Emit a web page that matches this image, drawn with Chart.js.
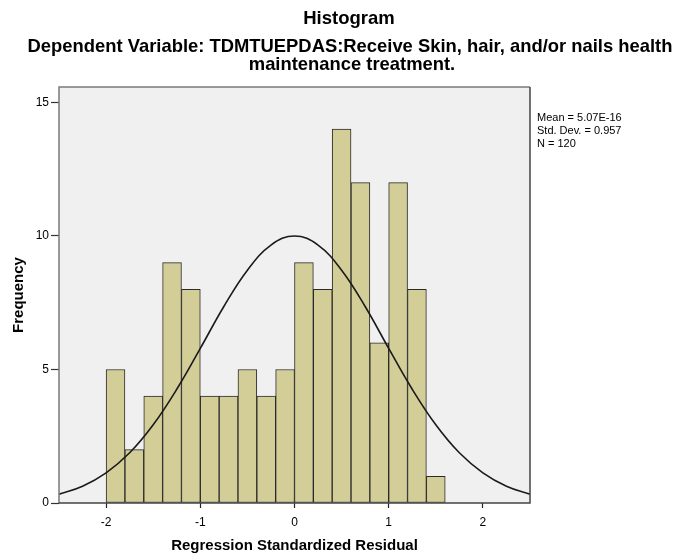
<!DOCTYPE html>
<html>
<head>
<meta charset="utf-8">
<script src="https://cdn.jsdelivr.net/npm/chart.js@4/dist/chart.umd.min.js"></script>
<style>
  html, body { margin: 0; padding: 0; background: #ffffff; }
  #wrap { width: 675px; height: 557px; position: relative; }
</style>
</head>
<body>
<div id="wrap"><canvas id="c" width="675" height="557"></canvas></div>
<script>
// ---- Data ----
const chartTitle = "Histogram";
const chartSubtitle = [
  "Dependent Variable: TDMTUEPDAS:Receive Skin, hair, and/or nails health",
  "maintenance treatment."
];
const statsLines = ["Mean = 5.07E-16", "Std. Dev. = 0.957", "N = 120"];
const xAxisTitle = "Regression Standardized Residual";
const yAxisTitle = "Frequency";

// bin centres (bin width 0.2) and counts
const binCenters = [-1.9, -1.7, -1.5, -1.3, -1.1, -0.9, -0.7, -0.5, -0.3, -0.1,
                    0.1, 0.3, 0.5, 0.7, 0.9, 1.1, 1.3, 1.5];
const frequencies = [5, 2, 4, 9, 8, 4, 4, 5, 4, 5,
                     9, 8, 14, 12, 6, 12, 8, 1];

// normal curve, points
const curveX = [-2.5, -2.25, -2, -1.75, -1.5, -1.25, -1, -0.75, -0.5, -0.25, 0,
                0.25, 0.5, 0.75, 1, 1.25, 1.5, 1.75, 2, 2.25, 2.5];
const curveY = [0.33, 0.63, 1.13, 1.88, 2.93, 4.26, 5.79, 7.36, 8.72, 9.66, 10,
                9.66, 8.72, 7.36, 5.79, 4.26, 2.93, 1.88, 1.13, 0.63, 0.33];

const xTicks = [-2, -1, 0, 1, 2];
const yTicks = [0, 5, 10, 15];

// ---- Chart ----
const FONT = "'Liberation Sans', Arial, sans-serif";

const framePlugin = {
  id: 'frame',
  beforeDatasetsDraw(chart) {
    const {ctx, chartArea: a} = chart;
    ctx.save();
    ctx.fillStyle = '#F0F0F0';
    ctx.fillRect(a.left, a.top, a.right - a.left, a.bottom - a.top);
    ctx.restore();
  },
  afterDatasetsDraw(chart) {
    const {ctx, chartArea: a} = chart;
    ctx.save();
    ctx.lineWidth = 1.5;
    ctx.strokeStyle = '#7a7a7a';
    ctx.beginPath();
    ctx.moveTo(a.left, a.bottom);
    ctx.lineTo(a.left, a.top);
    ctx.lineTo(a.right, a.top);
    ctx.stroke();
    ctx.strokeStyle = '#444444';
    ctx.beginPath();
    ctx.moveTo(a.right, a.top);
    ctx.lineTo(a.right, a.bottom);
    ctx.lineTo(a.left, a.bottom);
    ctx.stroke();
    ctx.restore();
  },
  afterDraw(chart) {
    const {ctx, chartArea: a} = chart;
    ctx.save();
    ctx.fillStyle = '#000';
    ctx.textAlign = 'center';
    ctx.textBaseline = 'middle';
    ctx.font = "bold 18.5px " + FONT;
    ctx.fillText(chartTitle, 349, 19);
    ctx.font = "bold 18.4px " + FONT;
    ctx.fillText(chartSubtitle[0], 350, 47);
    ctx.fillText(chartSubtitle[1], 352, 65);
    ctx.textAlign = 'left';
    ctx.font = "11px " + FONT;
    statsLines.forEach((s, i) => ctx.fillText(s, a.right + 7, 118 + i * 13));
    ctx.restore();
  }
};

new Chart(document.getElementById('c'), {
  type: 'bar',
  data: {
    datasets: [
      {
        type: 'line',
        label: 'Normal',
        data: curveX.map((x, i) => ({x: x, y: curveY[i]})),
        borderColor: '#1a1a1a',
        borderWidth: 1.6,
        pointRadius: 0,
        tension: 0.4,
        fill: false,
        order: 0
      },
      {
        type: 'bar',
        label: 'Frequency',
        data: binCenters.map((x, i) => ({x: x, y: frequencies[i]})),
        backgroundColor: '#D3CE97',
        borderColor: '#2a2a2a',
        borderWidth: 1,
        borderSkipped: false,
        barPercentage: 1,
        categoryPercentage: 1,
        order: 1
      }
    ]
  },
  options: {
    responsive: false,
    animation: false,
    devicePixelRatio: 1,
    layout: { padding: { top: 87, left: 0, right: 145, bottom: 0 } },
    plugins: {
      legend: { display: false },
      tooltip: { enabled: false },
      title: { display: false }
    },
    scales: {
      x: {
        type: 'linear',
        min: -2.5,
        max: 2.5,
        offset: false,
        afterBuildTicks: axis => { axis.ticks = xTicks.map(v => ({value: v})); },
        afterFit: axis => { axis.height = 54; },
        grid: { display: true, offset: false, drawOnChartArea: false, drawTicks: true, tickLength: 5, tickColor: '#222', tickWidth: 1.2 },
        border: { display: false },
        ticks: { color: '#000', font: { family: FONT, size: 12 }, padding: 7, maxRotation: 0, autoSkip: false },
        title: { display: true, text: xAxisTitle, color: '#000', font: { family: FONT, size: 15, weight: 'bold' }, padding: { top: 0, bottom: 2 } }
      },
      y: {
        type: 'linear',
        min: 0,
        max: 15.58,
        afterBuildTicks: axis => { axis.ticks = yTicks.map(v => ({value: v})); },
        afterFit: axis => { axis.width = 59; },
        grid: { display: true, drawOnChartArea: false, drawTicks: true, tickLength: 8, tickColor: '#333', tickWidth: 1.2 },
        border: { display: false },
        ticks: { color: '#000', font: { family: FONT, size: 12 }, padding: 2 },
        title: { display: true, text: yAxisTitle, color: '#000', font: { family: FONT, size: 15, weight: 'bold' }, padding: { top: 10, bottom: 0 } }
      }
    }
  },
  plugins: [framePlugin]
});
</script>
</body>
</html>
